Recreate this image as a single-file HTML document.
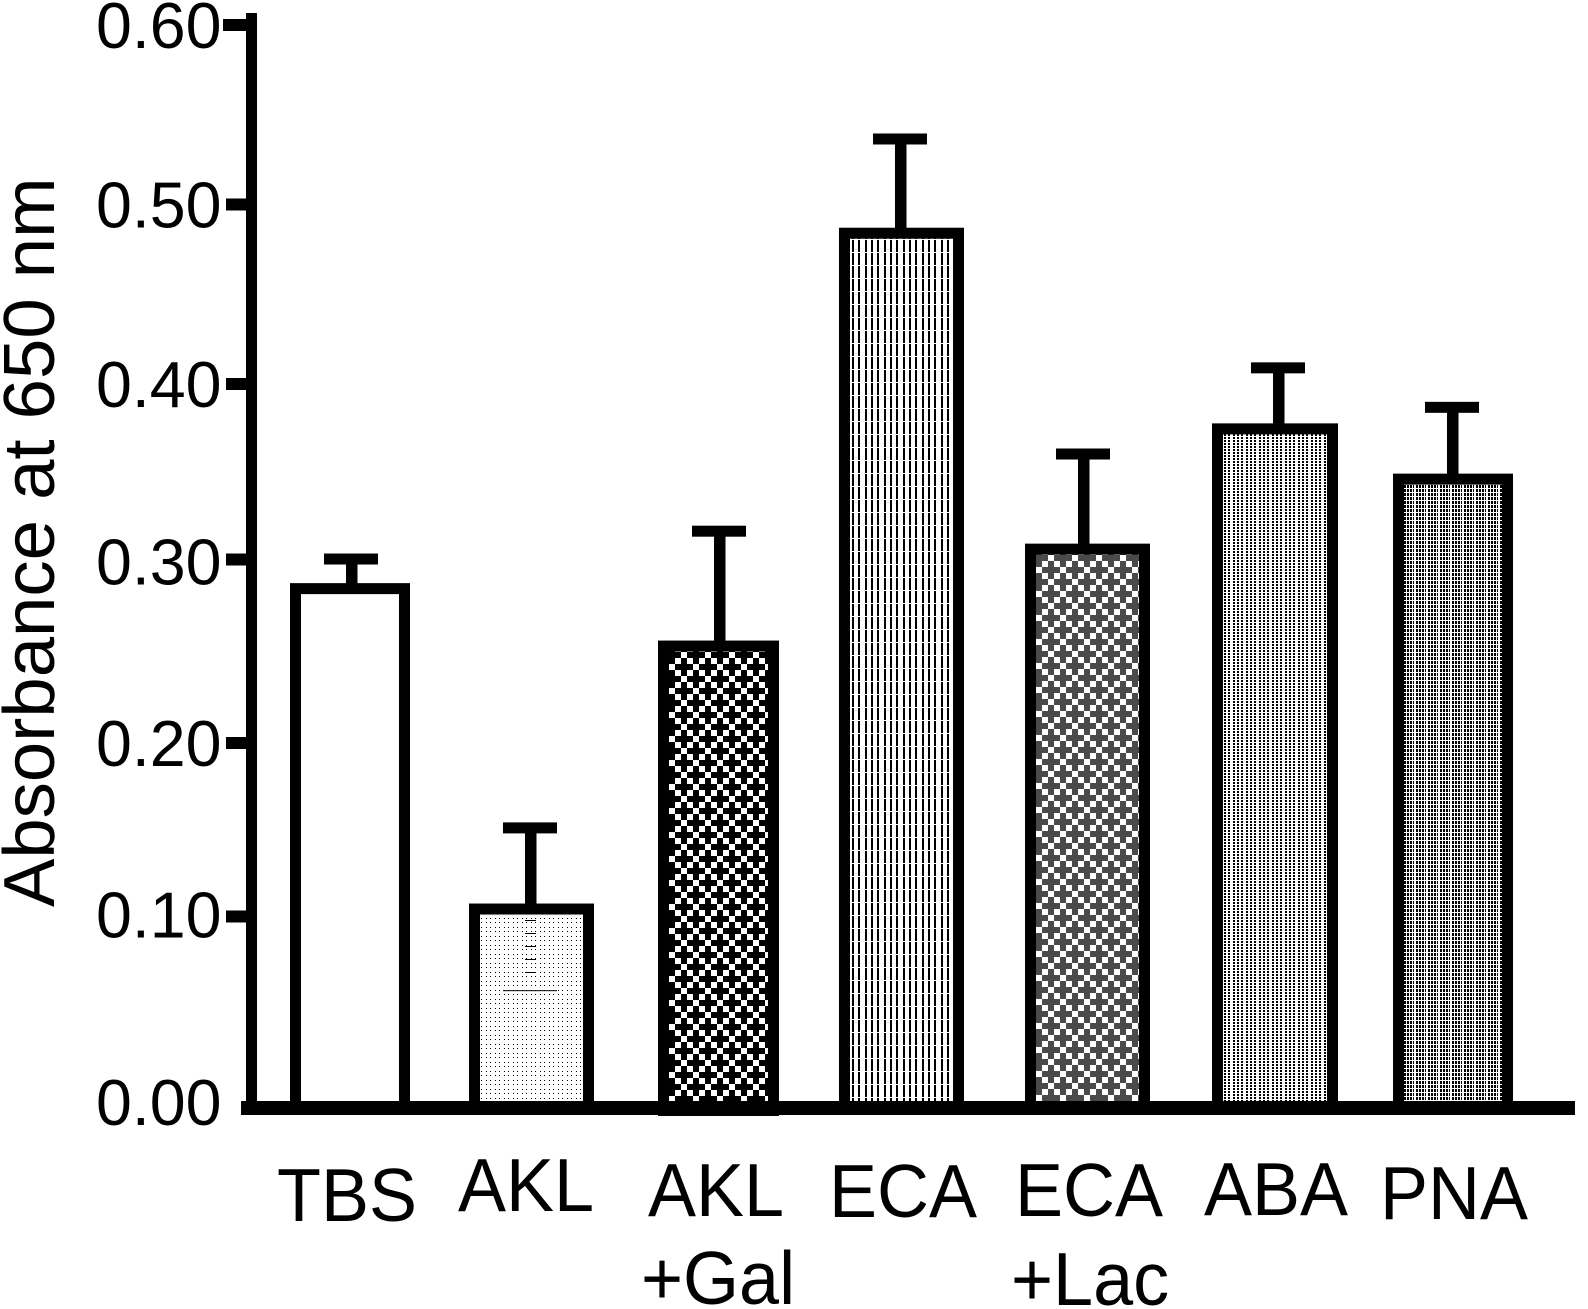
<!DOCTYPE html>
<html lang="en">
<head>
<meta charset="utf-8">
<title>Absorbance at 650 nm</title>
<style>
html,body{margin:0;padding:0;background:#fff;}
svg{display:block;}
text{font-family:"Liberation Sans",sans-serif;fill:#000;}
</style>
</head>
<body>
<svg id="chart" xmlns="http://www.w3.org/2000/svg" width="1588" height="1309" viewBox="0 0 1588 1309">
  <defs>
    <pattern id="p-white" width="4" height="4" patternUnits="userSpaceOnUse"><rect width="4" height="4" fill="#fff"/></pattern>
    <pattern id="p-dots" width="9" height="9" patternUnits="userSpaceOnUse" shape-rendering="crispEdges">
      <rect width="9" height="9" fill="#fff"/>
      <rect x="0" y="0" width="1" height="1" fill="#000"/><rect x="4" y="0" width="1" height="1" fill="#000"/>
      <rect x="0" y="4" width="1" height="1" fill="#000"/><rect x="4" y="4" width="1" height="1" fill="#000"/>
    </pattern>
    <pattern id="p-check-black" width="24" height="24" x="669" y="652" patternUnits="userSpaceOnUse" shape-rendering="crispEdges">
      <rect width="24" height="24" fill="#000"/>
      <g fill="#fff"><rect x="12" y="0" width="6" height="6"/><rect x="6" y="6" width="6" height="6"/><rect x="18" y="6" width="6" height="6"/><rect x="0" y="12" width="6" height="6"/><rect x="6" y="18" width="6" height="6"/><rect x="18" y="18" width="6" height="6"/></g>
    </pattern>
    <pattern id="p-check-gray" width="24" height="24" x="1036" y="555" patternUnits="userSpaceOnUse" shape-rendering="crispEdges">
      <rect width="24" height="24" fill="#4a4a4a"/>
      <g fill="#fff"><rect x="12" y="0" width="6" height="6"/><rect x="6" y="6" width="6" height="6"/><rect x="18" y="6" width="6" height="6"/><rect x="0" y="12" width="6" height="6"/><rect x="6" y="18" width="6" height="6"/><rect x="18" y="18" width="6" height="6"/></g>
    </pattern>
    <pattern id="p-stripes" width="19" height="13" x="852" y="240" patternUnits="userSpaceOnUse" shape-rendering="crispEdges">
      <rect width="19" height="13" fill="#fff"/>
      <g fill="#000"><rect x="0" y="0" width="2" height="12"/><rect x="6" y="0" width="2" height="12"/><rect x="13" y="0" width="2" height="12"/></g>
    </pattern>
    <pattern id="p-dash" width="13" height="3" x="1224" y="434" patternUnits="userSpaceOnUse" shape-rendering="crispEdges">
      <rect width="13" height="3" fill="#fff"/>
      <g fill="#000"><rect x="0" y="0" width="2" height="2"/><rect x="4" y="0" width="2" height="2"/><rect x="9" y="0" width="2" height="2"/></g>
    </pattern>
    <pattern id="p-dense" width="12" height="4" x="1404" y="485" patternUnits="userSpaceOnUse" shape-rendering="crispEdges">
      <rect width="12" height="4" fill="#fff"/>
      <g fill="#000"><rect x="0" y="0" width="2" height="3"/><rect x="3" y="0" width="2" height="3"/><rect x="6" y="0" width="2" height="3"/><rect x="9" y="0" width="1" height="3"/></g>
    </pattern>
  </defs>

  <!-- category slots: horizontal placement of each bar lives in the markup -->
  <g id="bars">
    <g class="slot" data-left="290" data-width="120" data-stem="346" data-fill="p-white"></g>
    <g class="slot" data-left="469" data-width="125" data-stem="525" data-fill="p-dots"></g>
    <g class="slot" data-left="658" data-width="121" data-stem="714" data-fill="p-check-black"></g>
    <g class="slot" data-left="839" data-width="125" data-stem="895" data-fill="p-stripes"></g>
    <g class="slot" data-left="1025" data-width="125" data-stem="1078" data-fill="p-check-gray"></g>
    <g class="slot" data-left="1212" data-width="126" data-stem="1273" data-fill="p-dash"></g>
    <g class="slot" data-left="1393" data-width="120" data-stem="1447" data-fill="p-dense"></g>
  </g>

  <g id="y-axis"></g>
  <rect x="241" y="1101" width="1334" height="14" fill="#000"/>
  <rect x="658" y="1115" width="121" height="1" fill="#000"/>

  <text transform="translate(54,907) rotate(-90)" font-size="72.5">Absorbance at 650 nm</text>

  <g font-size="72">
    <text transform="translate(277,1221) scale(1,1.04)">TBS</text>
    <text transform="translate(458,1211) scale(1,1.04)">AKL</text>
    <text transform="translate(648,1216) scale(1,1.04)">AKL</text>
    <text transform="translate(641,1304) scale(1,1.04)">+Gal</text>
    <text transform="translate(829,1217) scale(1,1.04)">ECA</text>
    <text transform="translate(1015,1216) scale(1,1.04)">ECA</text>
    <text transform="translate(1011,1305) scale(1,1.04)">+Lac</text>
    <text transform="translate(1204,1215) scale(1,1.04)">ABA</text>
    <text transform="translate(1380,1219) scale(1,1.04)">PNA</text>
  </g>
</svg>
<script>
const categories = ['tbs', 'akl', 'akl-gal', 'eca', 'eca-lac', 'aba', 'pna'];
const meanValues = [0.286, 0.1075, 0.254, 0.484, 0.308, 0.375, 0.347];
const upperErrors = [0.3025, 0.1527, 0.318, 0.5365, 0.361, 0.409, 0.387];
const yTickValues = [0, 0.1, 0.2, 0.3, 0.4, 0.5, 0.6];
const yTickLabels = ['0.00', '0.10', '0.20', '0.30', '0.40', '0.50', '0.60'];

const NS = 'http://www.w3.org/2000/svg';
function yScale(v) { return 1102 - v * 1795; }
function shape(parent, tag, attrs) {
  const el = document.createElementNS(NS, tag);
  for (const k in attrs) el.setAttribute(k, attrs[k]);
  parent.appendChild(el);
  return el;
}

const STROKE = 11;
const CAP_WIDTH = 54;
const slots = document.querySelectorAll('#bars .slot');
slots.forEach(function (slot, i) {
  const left = +slot.getAttribute('data-left');
  const width = +slot.getAttribute('data-width');
  const stem = +slot.getAttribute('data-stem');
  const fillId = slot.getAttribute('data-fill');
  const topCentre = yScale(meanValues[i]);
  const capCentre = yScale(upperErrors[i]);
  const base = yScale(0);
  
  

  const stemEl = shape(slot, 'rect', { x: stem, y: capCentre, width: 11.5, height: topCentre - capCentre, fill: '#000' });
  
  

  const capEl = shape(slot, 'rect', { x: stem - 22, y: capCentre - 5.5, width: CAP_WIDTH, height: STROKE, fill: '#000' });
  
  

  const barEl = shape(slot, 'rect', {
    x: left + STROKE / 2, y: topCentre,
    width: width - STROKE, height: base - topCentre + 5,
    fill: 'url(#' + fillId + ')', stroke: '#000', 'stroke-width': STROKE
  });
  
  

  /* the AKL bar shows its lower error whisker faintly through the fill */
  if (categories[i] === 'akl') {
    const lowerY = yScale(2 * meanValues[i] - upperErrors[i]);
    const ghostStem = shape(slot, 'line', {
      x1: stem + 5.5, x2: stem + 5.5, y1: topCentre + 11, y2: lowerY - 12,
      stroke: '#000', 'stroke-width': 11, 'stroke-dasharray': '1 12'
    });
    
    
    const ghostCap = shape(slot, 'rect', { x: stem - 22, y: lowerY, width: CAP_WIDTH, height: 1, fill: '#000' });
    
    
  }
});

const yAxis = document.getElementById('y-axis');
const spine = shape(yAxis, 'rect', { x: 246, y: 13, width: 11, height: 1095, fill: '#000' });



/* the original ticks were hand-placed: two sit slightly above their true value */
function tickShift(label) { return label === '0.10' ? -6 : label === '0.30' ? -4 : 0; }
function labelShift(label) { return label === '0.10' ? -8 : label === '0.30' ? -2 : 0; }

yTickValues.forEach(function (v, i) {
  const y = yScale(v);
  const name = yTickLabels[i];
  if (v > 0) {
    const tick = shape(yAxis, 'rect', { x: v === 0.6 ? 223 : 226, y: y - 6 + tickShift(name), width: v === 0.6 ? 30 : 31, height: 12, fill: '#000' });
    
    
  }
  const label = shape(yAxis, 'text', { x: 96, y: y + 23 + labelShift(name), 'font-size': 64.5 });
  label.textContent = name;
  
  
});
</script>
</body>
</html>
